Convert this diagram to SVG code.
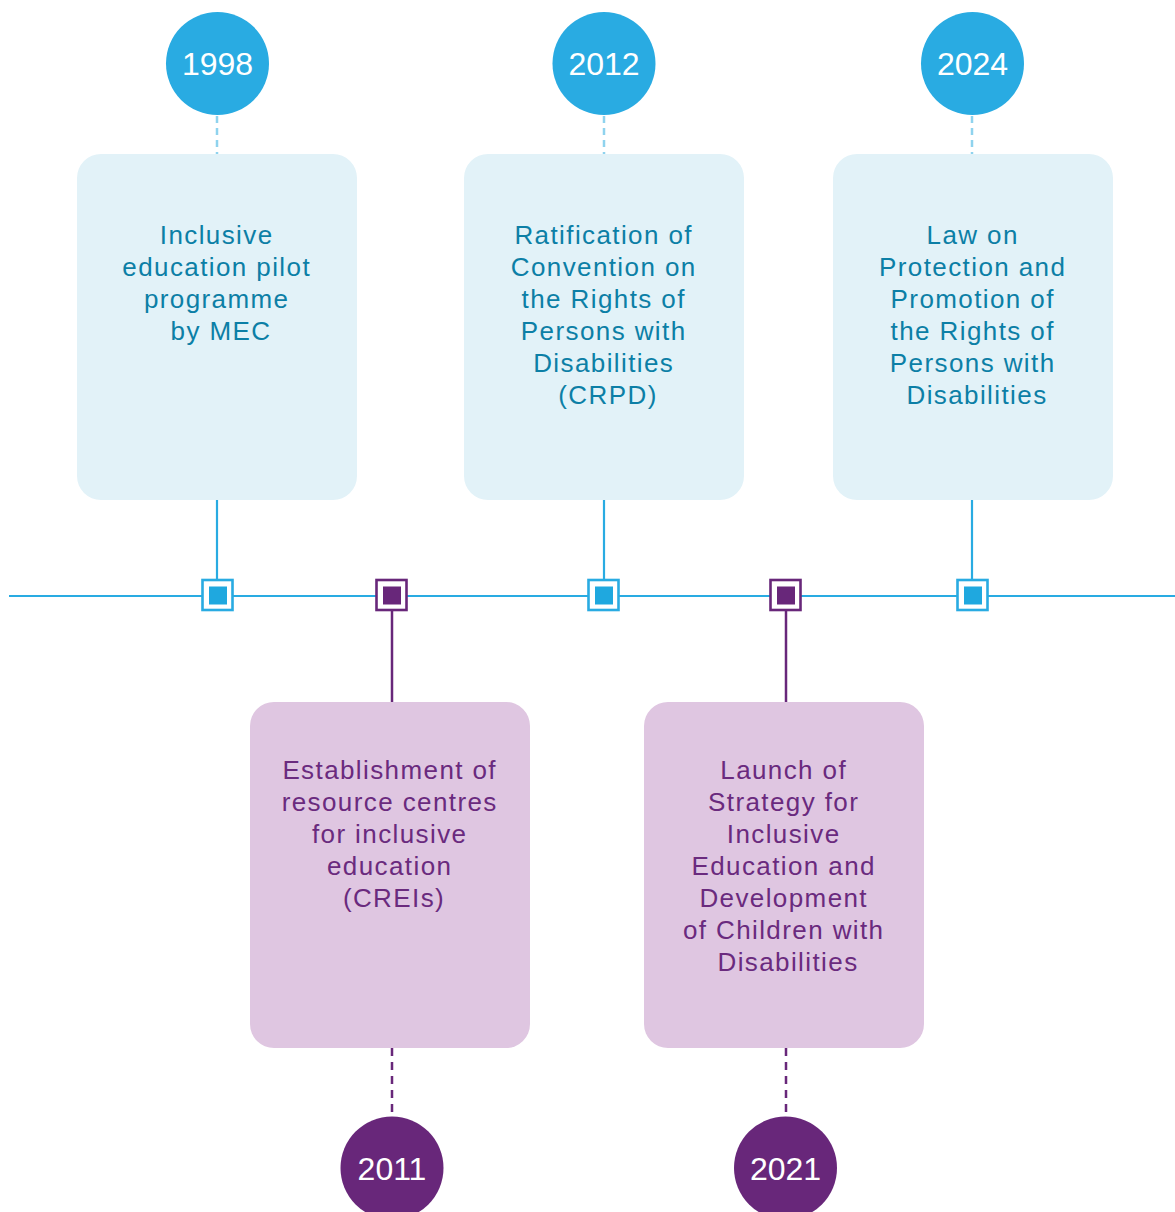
<svg xmlns="http://www.w3.org/2000/svg" width="1175" height="1212" viewBox="0 0 1175 1212">
  <style>
    .yr { fill: #ffffff; font-family: "Liberation Sans", Arial, sans-serif; font-size: 32px; text-anchor: middle; }
    .bt { font-family: "Liberation Sans", Arial, sans-serif; font-size: 26px; letter-spacing: 1.4px; text-anchor: middle; }
    .blue-circle { fill: #29abe2; }
    .purple-circle { fill: #68277a; }
    .blue-box { fill: #e2f2f8; }
    .purple-box { fill: #dfc6e1; }
    .blue-text { fill: #0c7fa6; }
    .purple-text { fill: #6a2a7e; }
    .axis { stroke: #29abe2; stroke-width: 2.2; fill: none; }
    .stem-blue { stroke: #29abe2; stroke-width: 2.2; fill: none; }
    .stem-purple { stroke: #68277a; stroke-width: 2.5; fill: none; }
    .dash-blue { stroke: #8fd3ee; stroke-width: 2.5; stroke-dasharray: 7 5; fill: none; }
    .dash-purple { stroke: #68277a; stroke-width: 2.5; stroke-dasharray: 8 6; fill: none; }
    .mk-blue-o { fill: #ffffff; stroke: #29abe2; stroke-width: 2.6; }
    .mk-blue-i { fill: #1fa8df; }
    .mk-purple-o { fill: #ffffff; stroke: #68277a; stroke-width: 2.6; }
    .mk-purple-i { fill: #68277a; }
  </style>

  <!-- connectors: axis, stems and dashed leaders -->
  <g id="connectors">
    <line class="axis" x1="9" y1="596" x2="1175" y2="596"/>
    <line class="dash-blue" x1="217" y1="116" x2="217" y2="154"/>
    <line class="dash-blue" x1="604" y1="116" x2="604" y2="154"/>
    <line class="dash-blue" x1="972" y1="116" x2="972" y2="154"/>
    <line class="stem-blue" x1="217" y1="500" x2="217" y2="580"/>
    <line class="stem-blue" x1="604" y1="500" x2="604" y2="580"/>
    <line class="stem-blue" x1="972" y1="500" x2="972" y2="580"/>
    <line class="stem-purple" x1="392" y1="610" x2="392" y2="702"/>
    <line class="stem-purple" x1="786" y1="610" x2="786" y2="702"/>
    <line class="dash-purple" x1="392" y1="1048" x2="392" y2="1118"/>
    <line class="dash-purple" x1="786" y1="1048" x2="786" y2="1118"/>
    <!-- axis markers -->
    <rect class="mk-blue-o" x="202.5" y="580" width="30" height="30"/>
    <rect class="mk-blue-i" x="209" y="586.5" width="18" height="18"/>
    <rect class="mk-purple-o" x="376.5" y="580" width="30" height="30"/>
    <rect class="mk-purple-i" x="383" y="586.5" width="18" height="18"/>
    <rect class="mk-blue-o" x="588.5" y="580" width="30" height="30"/>
    <rect class="mk-blue-i" x="595" y="586.5" width="18" height="18"/>
    <rect class="mk-purple-o" x="770.5" y="580" width="30" height="30"/>
    <rect class="mk-purple-i" x="777" y="586.5" width="18" height="18"/>
    <rect class="mk-blue-o" x="957.5" y="580" width="30" height="30"/>
    <rect class="mk-blue-i" x="964" y="586.5" width="18" height="18"/>
  </g>

  <!-- 1998 -->
  <g id="node-1998">
    <circle class="blue-circle" cx="217.5" cy="63.5" r="51.5"/>
    <text class="yr" x="217.5" y="75">1998</text>
    <rect class="blue-box" x="77" y="154" width="280" height="346" rx="24"/>
    <text class="bt blue-text" x="221" y="244">
      <tspan x="221" y="244">Inclusive</tspan>
      <tspan x="221" y="276">education pilot</tspan>
      <tspan x="221" y="308">programme</tspan>
      <tspan x="221" y="340">by MEC</tspan>
    </text>
  </g>

  <!-- 2012 -->
  <g id="node-2012">
    <circle class="blue-circle" cx="604" cy="63.5" r="51.5"/>
    <text class="yr" x="604" y="75">2012</text>
    <rect class="blue-box" x="464" y="154" width="280" height="346" rx="24"/>
    <text class="bt blue-text" x="608" y="244">
      <tspan x="608" y="244">Ratification of</tspan>
      <tspan x="608" y="276">Convention on</tspan>
      <tspan x="608" y="308">the Rights of</tspan>
      <tspan x="608" y="340">Persons with</tspan>
      <tspan x="608" y="372">Disabilities</tspan>
      <tspan x="608" y="404">(CRPD)</tspan>
    </text>
  </g>

  <!-- 2024 -->
  <g id="node-2024">
    <circle class="blue-circle" cx="972.5" cy="63.5" r="51.5"/>
    <text class="yr" x="972.5" y="75">2024</text>
    <rect class="blue-box" x="833" y="154" width="280" height="346" rx="24"/>
    <text class="bt blue-text" x="977" y="244">
      <tspan x="977" y="244">Law on</tspan>
      <tspan x="977" y="276">Protection and</tspan>
      <tspan x="977" y="308">Promotion of</tspan>
      <tspan x="977" y="340">the Rights of</tspan>
      <tspan x="977" y="372">Persons with</tspan>
      <tspan x="977" y="404">Disabilities</tspan>
    </text>
  </g>

  <!-- 2011 -->
  <g id="node-2011">
    <rect class="purple-box" x="250" y="702" width="280" height="346" rx="24"/>
    <text class="bt purple-text" x="394" y="779">
      <tspan x="394" y="779">Establishment of</tspan>
      <tspan x="394" y="811">resource centres</tspan>
      <tspan x="394" y="843">for inclusive</tspan>
      <tspan x="394" y="875">education</tspan>
      <tspan x="394" y="907">(CREIs)</tspan>
    </text>
    <circle class="purple-circle" cx="392" cy="1168" r="51.5"/>
    <text class="yr" x="392" y="1180">2011</text>
  </g>

  <!-- 2021 -->
  <g id="node-2021">
    <rect class="purple-box" x="644" y="702" width="280" height="346" rx="24"/>
    <text class="bt purple-text" x="788" y="779">
      <tspan x="788" y="779">Launch of</tspan>
      <tspan x="788" y="811">Strategy for</tspan>
      <tspan x="788" y="843">Inclusive</tspan>
      <tspan x="788" y="875">Education and</tspan>
      <tspan x="788" y="907">Development</tspan>
      <tspan x="788" y="939">of Children with</tspan>
      <tspan x="788" y="971">Disabilities</tspan>
    </text>
    <circle class="purple-circle" cx="785.5" cy="1168" r="51.5"/>
    <text class="yr" x="785.5" y="1180">2021</text>
  </g>
</svg>
